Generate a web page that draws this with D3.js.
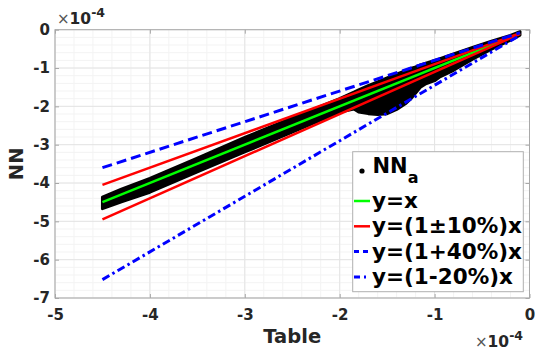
<!DOCTYPE html>
<html>
<head>
<meta charset="utf-8">
<script src="https://cdn.jsdelivr.net/npm/d3@7"></script>
<style>
  body { margin: 0; background: #fff; }
  svg { display: block; font-family: "DejaVu Sans", sans-serif; }
</style>
</head>
<body>
<div id="chart"></div>
<script>
// axis ticks (units of 1e-4)
const xTicks = [-5, -4, -3, -2, -1, 0];
const yTicks = [-7, -6, -5, -4, -3, -2, -1, 0];

// envelope of the NN_a scatter cloud
const bandX = [-4.5, -4.3, -4.0, -3.5, -3.0, -2.5, -2.0, -1.85, -1.8, -1.7, -1.6, -1.5,
  -1.4, -1.3, -1.25, -1.2, -1.15, -1.1, -1.0, -0.95, -0.8, -0.6, -0.4, -0.2, -0.1];
const bandUpper = [-4.37, -4.16, -3.88, -3.35, -2.81, -2.30, -1.80, -1.63, -1.57, -1.46, -1.36, -1.26,
  -1.16, -1.06, -1.01, -0.97, -0.92, -0.88, -0.80, -0.76, -0.63, -0.46, -0.30, -0.15, -0.05];
const bandLower = [-4.67, -4.49, -4.24, -3.71, -3.19, -2.67, -2.15, -2.07, -2.15, -2.19, -2.21, -2.19,
  -2.08, -1.92, -1.80, -1.65, -1.50, -1.42, -1.33, -1.24, -1.06, -0.77, -0.51, -0.27, -0.14];

// reference lines, end points
const refX = [-4.5, -0.1];
const lineIdentity = [-4.5, -0.1];
const lineRedUp = [-4.05, -0.09];
const lineRedLow = [-4.95, -0.11];
const lineBlueDash = [-3.6, -0.08];
const lineBlueDashDot = [-6.52, -0.145];

const legendLabels = ["y=x", "y=(1\u00b110%)x", "y=(1+40%)x", "y=(1-20%)x"];

const W = 535, H = 354;
const margin = { top: 29.7, right: 5.5, bottom: 56, left: 55 };
const width = W - margin.left - margin.right;
const height = H - margin.top - margin.bottom;

const x = d3.scaleLinear().domain([-5, 0]).range([0, width]);
const y = d3.scaleLinear().domain([-7, 0]).range([height, 0]);

const svg = d3.select("#chart").append("svg")
  .attr("width", W).attr("height", H);

const g = svg.append("g")
  .attr("transform", "translate(" + margin.left + "," + margin.top + ")");

// grid: minor then major
const minorX = d3.range(-5, 0.001, 0.2);
const minorY = d3.range(-7, 0.001, 0.2);
g.append("g").selectAll("line").data(minorX).join("line")
  .attr("x1", d => x(d)).attr("x2", d => x(d)).attr("y1", 0).attr("y2", height)
  .attr("stroke", "#f3f3f3").attr("stroke-width", 1);
g.append("g").selectAll("line").data(minorY).join("line")
  .attr("y1", d => y(d)).attr("y2", d => y(d)).attr("x1", 0).attr("x2", width)
  .attr("stroke", "#f3f3f3").attr("stroke-width", 1);
g.append("g").selectAll("line").data(xTicks).join("line")
  .attr("x1", d => x(d)).attr("x2", d => x(d)).attr("y1", 0).attr("y2", height)
  .attr("stroke", "#e4e4e4").attr("stroke-width", 1);
g.append("g").selectAll("line").data(yTicks).join("line")
  .attr("y1", d => y(d)).attr("y2", d => y(d)).attr("x1", 0).attr("x2", width)
  .attr("stroke", "#e4e4e4").attr("stroke-width", 1);

// scatter cloud
const band = bandX.map((d, i) => ({ x: d, lo: bandLower[i], hi: bandUpper[i] }));
g.append("path")
  .datum(band)
  .attr("d", d3.area().x(d => x(d.x)).y0(d => y(d.lo)).y1(d => y(d.hi)).curve(d3.curveLinear))
  .attr("fill", "#000").attr("stroke", "#000").attr("stroke-width", 3)
  .attr("stroke-linejoin", "round");

// reference lines
const line = d3.line().x(d => x(d[0])).y(d => y(d[1]));
const series = [
  { ys: lineIdentity, color: "#00ff00", w: 2.5, dash: null, legDash: null },
  { ys: lineRedUp, color: "#ff0000", w: 2.5, dash: null, legDash: null },
  { ys: lineRedLow, color: "#ff0000", w: 2.5, dash: null, legDash: null },
  { ys: lineBlueDash, color: "#0000ff", w: 3, dash: "10,5", legDash: "5,4" },
  { ys: lineBlueDashDot, color: "#0000ff", w: 3, dash: "8,3.5,2.5,3.5", legDash: "6,4,2,4" }
];
series.forEach(s => {
  g.append("path")
    .datum(refX.map((d, i) => [d, s.ys[i]]))
    .attr("d", line)
    .attr("fill", "none")
    .attr("stroke", s.color)
    .attr("stroke-width", s.w)
    .attr("stroke-dasharray", s.dash);
});

// axes
const axisColor = "#a8a8a8";
const fmt = d => String(d);
const xAxis = g.append("g").attr("transform", "translate(0," + height + ")")
  .call(d3.axisBottom(x).tickValues(xTicks).tickSize(-4).tickPadding(11).tickFormat(fmt));
const yAxis = g.append("g")
  .call(d3.axisLeft(y).tickValues(yTicks).tickSize(-4).tickPadding(5).tickFormat(fmt));
const topAxis = g.append("g")
  .call(d3.axisTop(x).tickValues(xTicks).tickSize(-4).tickFormat(""));
const rightAxis = g.append("g").attr("transform", "translate(" + width + ",0)")
  .call(d3.axisRight(y).tickValues(yTicks).tickSize(-4).tickFormat(""));
[xAxis, yAxis, topAxis, rightAxis].forEach(a => {
  a.select(".domain").remove();
  a.selectAll(".tick line").attr("stroke", axisColor);
  a.selectAll("text")
    .attr("fill", "#262626")
    .style("font-size", "15px")
    .style("font-weight", "bold")
    .style("font-family", "DejaVu Sans");
});
g.append("rect")
  .attr("width", width).attr("height", height)
  .attr("fill", "none").attr("stroke", axisColor).attr("stroke-width", 1);

// exponent labels
function expLabel(px, py) {
  const t = svg.append("text").attr("x", px).attr("y", py).attr("fill", "#262626");
  t.append("tspan").text("\u00d7").style("font-size", "15px").attr("fill", "#555");
  t.append("tspan").text("10").style("font-size", "15.5px").style("font-weight", "bold");
  t.append("tspan").text("-4").attr("dy", -7).style("font-size", "12.5px").style("font-weight", "bold");
}
expLabel(57, 24);
expLabel(475, 347);

// axis titles
svg.append("text")
  .attr("x", margin.left + width / 2).attr("y", 343)
  .attr("text-anchor", "middle")
  .attr("fill", "#262626")
  .style("font-size", "19.5px").style("font-weight", "bold")
  .text("Table");
svg.append("text")
  .attr("transform", "translate(23," + (margin.top + height / 2) + ") rotate(-90)")
  .attr("text-anchor", "middle")
  .attr("fill", "#262626")
  .style("font-size", "19.5px").style("font-weight", "bold")
  .text("NN");

// legend
const lg = svg.append("g");
lg.append("rect")
  .attr("x", 352.7).attr("y", 151.7).attr("width", 170.6).attr("height", 140)
  .attr("fill", "#fff").attr("stroke", "#b0b0b0").attr("stroke-width", 1);
lg.append("circle").attr("cx", 362).attr("cy", 171).attr("r", 2.6).attr("fill", "#000");
const nn = lg.append("text").attr("x", 372.5).attr("y", 173).attr("fill", "#000")
  .style("font-weight", "bold");
nn.append("tspan").text("NN").style("font-size", "21px");
nn.append("tspan").text("a").attr("dy", 10).style("font-size", "16px");

const legendSeries = [series[0], series[1], series[3], series[4]];
legendSeries.forEach((s, i) => {
  const ly = 201 + i * 25.3;
  lg.append("line")
    .attr("x1", 354).attr("x2", 370).attr("y1", ly).attr("y2", ly)
    .attr("stroke", s.color).attr("stroke-width", s.w)
    .attr("stroke-dasharray", s.legDash);
  lg.append("text")
    .attr("x", 372).attr("y", ly + 7)
    .attr("fill", "#000")
    .style("font-size", "21.5px").style("font-weight", "bold")
    .text(legendLabels[i]);
});
</script>
</body>
</html>
